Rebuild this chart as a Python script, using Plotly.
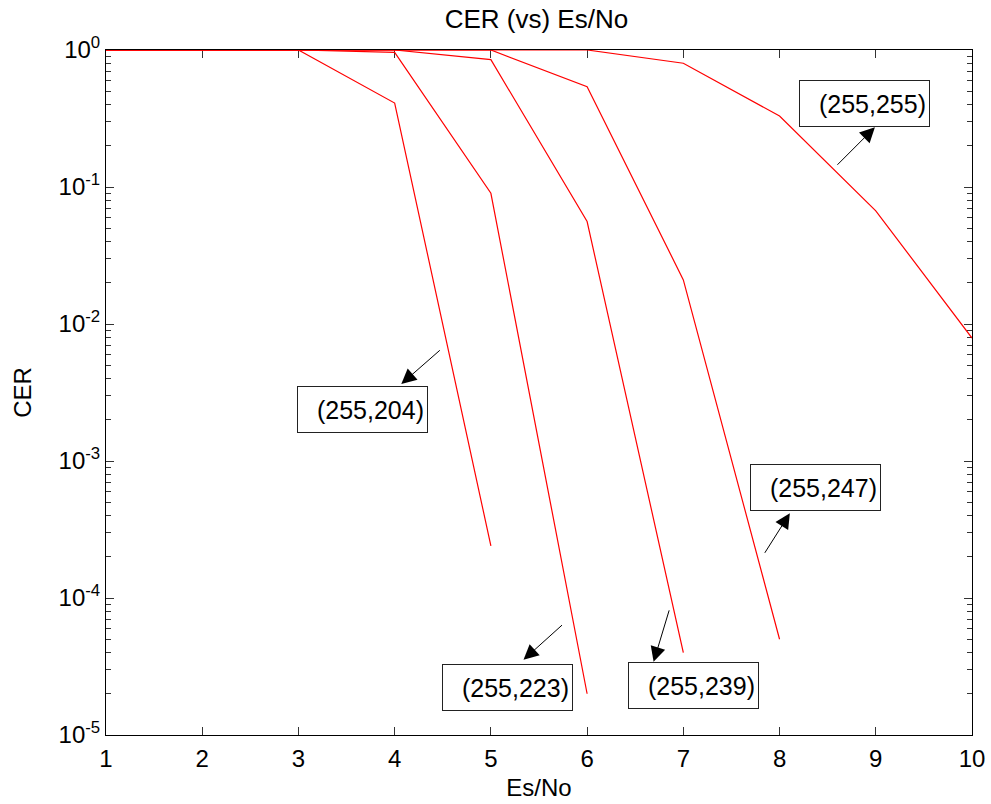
import plotly.graph_objects as go

# Code error rate vs symbol SNR for several RS(n,k) codes
es_no = [1, 2, 3, 4, 5, 6, 7, 8, 9, 10]

cer_255_204 = [1.0, 1.0, 1.0, 0.41, 2.4e-4]
cer_255_223 = [1.0, 1.0, 1.0, 0.96, 0.09, 2.0e-5]
cer_255_239 = [1.0, 1.0, 1.0, 1.0, 0.85, 0.056, 4.0e-5]
cer_255_247 = [1.0, 1.0, 1.0, 1.0, 1.0, 0.54, 0.021, 5.0e-5]
cer_255_255 = [1.0, 1.0, 1.0, 1.0, 1.0, 1.0, 0.80, 0.33, 0.067, 0.0079]

code_labels = ["(255,204)", "(255,223)", "(255,239)", "(255,247)", "(255,255)"]
y_tick_vals = [1e-5, 1e-4, 1e-3, 1e-2, 1e-1, 1]
y_tick_text = ["10<sup>-5</sup>", "10<sup>-4</sup>", "10<sup>-3</sup>",
               "10<sup>-2</sup>", "10<sup>-1</sup>", "10<sup>0</sup>"]

series = [cer_255_204, cer_255_223, cer_255_239, cer_255_247, cer_255_255]

FONT = "Liberation Sans, Arial, Helvetica, sans-serif"
FS = 24

fig = go.Figure()
for name, vals in zip(code_labels, series):
    fig.add_trace(go.Scatter(
        x=es_no[:len(vals)], y=vals, mode="lines", name=name,
        line=dict(color="#ff0000", width=1.2), showlegend=False,
        cliponaxis=False,
    ))

minor_vals = [m * 10.0 ** e for e in range(-5, 0) for m in range(2, 10)]

# label boxes: (label, left x, top log10 y)
boxes = [
    ("(255,255)", 8.20, -0.219),
    ("(255,204)", 2.985, -2.45),
    ("(255,223)", 4.495, -4.48),
    ("(255,239)", 6.43, -4.47),
    ("(255,247)", 7.69, -3.02),
]
# arrows: head x, head log10 y, tail offset in px
arrows = [
    (8.991, -0.564, -39, 39),
    (4.069, -2.438, 40, -35),
    (5.339, -4.451, 40, -36),
    (6.691, -4.466, 16, -53),
    (8.107, -3.382, -26, 41),
]

annotations = []
for text, bx, by in boxes:
    annotations.append(dict(
        x=bx, y=by, xref="x", yref="y", xanchor="left", yanchor="top",
        text=text, showarrow=False, width=123, height=39, align="right",
        valign="middle", bordercolor="#222222", borderwidth=1, borderpad=3,
        bgcolor="white", font=dict(family=FONT, size=25, color="black"),
    ))
for hx, hy, ax, ay in arrows:
    annotations.append(dict(
        x=hx, y=hy, xref="x", yref="y", text="", showarrow=True,
        ax=ax, ay=ay, arrowhead=2, arrowsize=3, arrowwidth=1,
        arrowcolor="black", standoff=0,
    ))

fig.update_layout(
    width=991, height=804,
    margin=dict(l=106, r=19, t=50, b=69),
    paper_bgcolor="white", plot_bgcolor="white",
    title=dict(text="CER (vs) Es/No", x=0.497, xanchor="center",
               xref="paper", y=1 - 19 / 804, yanchor="middle",
               font=dict(family=FONT, size=26, color="black")),
    font=dict(family=FONT, color="black"),
    annotations=annotations,
)
fig.update_xaxes(
    range=[1, 10], tickvals=es_no, ticks="inside", ticklen=8, tickwidth=1,
    tickcolor="#333333", showline=True, linecolor="black", linewidth=1,
    mirror="allticks", showgrid=False, zeroline=False, layer="below traces",
    automargin=False, ticklabelstandoff=2,
    tickfont=dict(family=FONT, size=FS, color="black"),
    title=dict(text="Es/No", font=dict(family=FONT, size=FS, color="black"),
               standoff=8),
)
fig.update_yaxes(
    type="log", range=[-5, 0], tickvals=y_tick_vals, ticktext=y_tick_text,
    ticks="inside", ticklen=8, tickwidth=1, tickcolor="#333333",
    showline=True, linecolor="black", linewidth=1, mirror="allticks",
    showgrid=False, zeroline=False, layer="below traces", automargin=False,
    minor=dict(tickvals=minor_vals, ticks="inside", ticklen=5,
               tickcolor="#333333", showgrid=False),
    tickfont=dict(family=FONT, size=FS, color="black"),
    title=dict(text="CER", font=dict(family=FONT, size=FS, color="black"),
               standoff=20),
)

fig.write_html("out.html")
